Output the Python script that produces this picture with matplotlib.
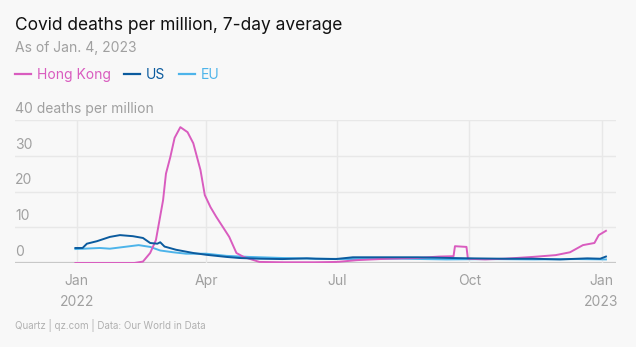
import pandas as pd
import matplotlib.pyplot as plt
import matplotlib.transforms as mtransforms

# data
hk_dates = ['2021-12-31', '2022-01-20', '2022-02-10', '2022-02-16', '2022-02-21', '2022-02-25',
            '2022-03-02', '2022-03-04', '2022-03-07', '2022-03-10', '2022-03-14', '2022-03-19',
            '2022-03-23', '2022-03-28', '2022-03-31', '2022-04-04', '2022-04-08', '2022-04-13',
            '2022-04-17', '2022-04-22', '2022-04-27', '2022-05-08', '2022-05-25', '2022-06-15',
            '2022-07-01', '2022-07-15', '2022-08-05', '2022-08-26', '2022-09-10', '2022-09-20',
            '2022-09-21', '2022-09-29', '2022-09-30', '2022-10-12', '2022-10-26', '2022-11-14',
            '2022-11-30', '2022-12-10', '2022-12-19', '2022-12-27', '2022-12-30', '2023-01-04']
hk_vals = [0, 0, 0, 0.4, 2.8, 6.4,
           17.6, 25, 29.6, 35, 38, 36.6,
           33.5, 26, 19, 15.6, 12.9, 9.8,
           7.3, 2.8, 1.7, 0.3, 0.2, 0.2,
           0.3, 0.8, 1.2, 1.4, 1.8, 1.9,
           4.7, 4.5, 1.2, 1.0, 1.2, 1.7,
           2.2, 3.0, 5.0, 5.6, 7.8, 9.0]

us_dates = ['2021-12-31', '2022-01-05', '2022-01-08', '2022-01-15', '2022-01-24', '2022-01-31',
            '2022-02-09', '2022-02-16', '2022-02-21', '2022-02-26', '2022-02-28', '2022-03-03',
            '2022-03-11', '2022-03-23', '2022-04-01', '2022-04-15', '2022-04-24', '2022-05-08',
            '2022-05-24', '2022-06-10', '2022-06-16', '2022-06-30', '2022-07-12', '2022-08-03',
            '2022-08-26', '2022-09-18', '2022-10-02', '2022-10-24', '2022-11-14', '2022-12-03',
            '2022-12-22', '2022-12-31', '2023-01-04']
us_vals = [4.2, 4.2, 5.4, 6.1, 7.3, 7.8,
           7.5, 7.0, 5.6, 5.4, 5.8, 4.6,
           3.7, 2.8, 2.3, 1.7, 1.4, 1.2,
           1.1, 1.3, 1.2, 1.1, 1.6, 1.6,
           1.6, 1.4, 1.3, 1.2, 1.2, 1.0,
           1.3, 1.2, 1.8]

eu_dates = ['2021-12-31', '2022-01-17', '2022-01-24', '2022-02-03', '2022-02-13', '2022-02-21',
            '2022-02-28', '2022-03-09', '2022-03-18', '2022-04-01', '2022-04-15', '2022-05-01',
            '2022-05-24', '2022-06-17', '2022-07-15', '2022-08-15', '2022-09-15', '2022-10-15',
            '2022-11-15', '2022-12-15', '2023-01-04']
eu_vals = [3.9, 4.2, 4.0, 4.5, 5.0, 4.5,
           3.5, 3.0, 2.6, 2.6, 2.0, 1.7,
           1.4, 1.2, 1.1, 1.2, 1.0, 1.1,
           1.0, 1.1, 1.0]

y_ticks = [0, 10, 20, 30, 40]
x_ticks = ['2022-01-01', '2022-04-01', '2022-07-01', '2022-10-01', '2023-01-01']
x_labels = ['Jan\n2022', 'Apr', 'Jul', 'Oct', 'Jan\n2023']

# style
bg = '#f8f8f8'
grid_c = '#e8e8e8'
text_gray = '#a0a0a0'
c_hk = '#d95cbf'
c_us = '#0b5b9e'
c_eu = '#4db4ea'
lw = 1.4

plt.rcParams['font.family'] = ['Inter', 'DejaVu Sans']

fig = plt.figure(figsize=(6.36, 3.47), dpi=100, facecolor=bg)
ax = fig.add_axes([15/636, 1 - 263/347, 601/636, 143/347])
ax.set_facecolor(bg)

ax.plot(pd.to_datetime(eu_dates), eu_vals, color=c_eu, linewidth=lw, zorder=3)
ax.plot(pd.to_datetime(hk_dates), hk_vals, color=c_hk, linewidth=lw, zorder=4)
ax.plot(pd.to_datetime(us_dates), us_vals, color=c_us, linewidth=lw, zorder=5)

ax.set_ylim(0, 40)
ax.set_xlim(pd.Timestamp('2021-11-19'), pd.Timestamp('2023-01-11'))

for s in ax.spines.values():
    s.set_visible(False)

for v in y_ticks:
    ax.axhline(v, color='#c8c8c8' if v == 0 else grid_c, linewidth=1.6 if v == 0 else 1.0, zorder=1)
for d in x_ticks:
    ax.axvline(pd.Timestamp(d), color=grid_c, linewidth=1.0, zorder=1)

ax.set_yticks([])
ax.set_xticks(pd.to_datetime(x_ticks))
ax.set_xticklabels(x_labels, color=text_gray, fontsize=10, linespacing=1.6)
ax.tick_params(axis='x', length=0, pad=8)

trans = mtransforms.blended_transform_factory(ax.transAxes, ax.transData)
for v in y_ticks:
    lab = '40 deaths per million' if v == 40 else str(v)
    ax.text(0, v, lab, transform=trans + mtransforms.ScaledTranslation(0, 3/72, fig.dpi_scale_trans),
            color=text_gray, fontsize=10, ha='left', va='bottom')

fig.text(15/636, 1 - 30/347, 'Covid deaths per million, 7-day average', fontsize=12.5, color='#111111')
fig.text(15/636, 1 - 52/347, 'As of Jan. 4, 2023', fontsize=10, color=text_gray)

handles = [plt.Line2D([], [], color=c, linewidth=1.6) for c in [c_hk, c_us, c_eu]]
leg = fig.legend(handles, ['Hong Kong', 'US', 'EU'], loc='center left', bbox_to_anchor=(15/636, 1 - 75/347),
                 ncol=3, frameon=False, fontsize=10, handlelength=1.15, handletextpad=0.4,
                 columnspacing=1.0, labelcolor='linecolor', borderpad=0, borderaxespad=0)

fig.text(15/636, 1 - 329/347, 'Quartz | qz.com | Data: Our World in Data', fontsize=7, color='#b0b0b0')

fig.savefig('out.png', dpi=100, facecolor=bg)
